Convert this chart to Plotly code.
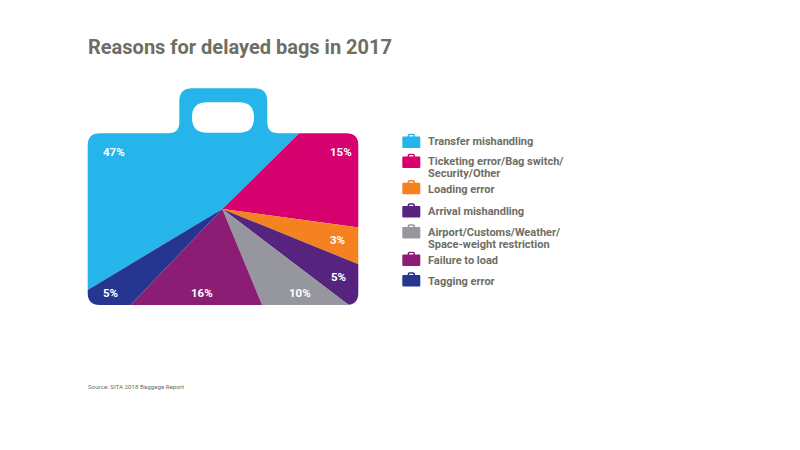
import plotly.graph_objects as go

W, H = 800, 450
PAGE_MARGIN = 8  # the page body offsets the figure by this many pixels
ANN_PAD = 2  # annotations carry this much inner padding

title = "Reasons for delayed bags in 2017"
source = "Source: SITA 2018 Baggage Report"
categories = ["Transfer mishandling", "Ticketing error/Bag switch/<br>Security/Other", "Loading error",
              "Arrival mishandling", "Airport/Customs/Weather/<br>Space-weight restriction",
              "Failure to load", "Tagging error"]
# Share of the circle each slice occupies in the picture.
slice_shares = [46.25, 14.5, 4.0, 4.2, 8.4, 18.4, 4.25]
# Figures printed on the slices.
printed_labels = ["47%", "15%", "3%", "5%", "10%", "16%", "5%"]
colors = ["#25b5ea", "#d6006e", "#f58220", "#56247f", "#96979e", "#8c1d75", "#263590"]

TEXT = "#6d6e64"
FONT = "Roboto"
cx, cy, R = 222.3, 209.0, 175.0
label_pos = [(113.7, 152.3), (341, 151.7), (337.7, 240), (338, 276.7), (299.7, 293.3), (202, 293.3), (110.7, 293.3)]
legend_line_y = [[141.7], [161.7, 173.3], [189], [211.7], [232.7, 244.2], [261], [281.7]]
icon_top = [133.7, 153.7, 180, 203.3, 224.3, 251.7, 272.3]


def px(x):
    return (x - PAGE_MARGIN) / W


def py(y):
    return 1 - (y - PAGE_MARGIN) / H


def path(cmds):
    out = []
    for c in cmds:
        op, pts = c[0], c[1:]
        coords = " ".join(f"{px(pts[i]):.5f},{py(pts[i + 1]):.5f}" for i in range(0, len(pts), 2))
        out.append(f"{op} {coords}".strip())
    return " ".join(out)


def rrect(x0, y0, x1, y1, r):
    return [("M", x0 + r, y0), ("L", x1 - r, y0), ("Q", x1, y0, x1, y0 + r), ("L", x1, y1 - r),
            ("Q", x1, y1, x1 - r, y1), ("L", x0 + r, y1), ("Q", x0, y1, x0, y1 - r), ("L", x0, y0 + r),
            ("Q", x0, y0, x0 + r, y0), ("Z",)]


def case_outline(l, r, t, b, hl, hr, ht, cr, hr_r, f):
    return [("M", l + cr, t), ("L", hl - f, t), ("Q", hl, t, hl, t - f), ("L", hl, ht + hr_r),
            ("Q", hl, ht, hl + hr_r, ht), ("L", hr - hr_r, ht), ("Q", hr, ht, hr, ht + hr_r), ("L", hr, t - f),
            ("Q", hr, t, hr + f, t), ("L", r - cr, t), ("Q", r, t, r, t + cr), ("L", r, b - cr),
            ("Q", r, b, r - cr, b), ("L", l + cr, b), ("Q", l, b, l, b - cr), ("L", l, t + cr),
            ("Q", l, t, l + cr, t), ("Z",)]


fig = go.Figure(go.Pie(
    values=slice_shares, labels=[c.replace("<br>", " ") for c in categories], sort=False,
    direction="clockwise", rotation=239, textinfo="none", hoverinfo="skip", showlegend=False,
    marker=dict(colors=colors, line=dict(width=0)),
    domain=dict(x=[px(cx - R), px(cx + R)], y=[py(cy + R), py(cy - R)]),
))

shapes = []
# white mask that leaves only the suitcase silhouette of the pie visible
mask = [("M", 0, 0), ("L", W + 20, 0), ("L", W + 20, H + 20), ("L", 0, H + 20), ("Z",)]
mask += case_outline(87.7, 358.3, 133.3, 305, 179.3, 267.3, 88.3, 12, 13, 11)
mask += rrect(192, 102.3, 254, 132.7, 15)
shapes.append(dict(type="path", xref="paper", yref="paper", path=path(mask), fillcolor="white",
                   line=dict(width=0), layer="above"))

# legend suitcases
for top, col in zip(icon_top, colors):
    shapes.append(dict(type="path", xref="paper", yref="paper", fillcolor=col, line=dict(width=0), layer="above",
                       path=path(case_outline(402.3, 420.3, top + 2.8, top + 14.3, 407.6, 415, top, 1.0, 2, 0.5)
                                 + rrect(409.2, top + 1.4, 413.4, top + 2.8, 0.6))))

annotations = [dict(text=f"<b>{title}</b>", x=px(88 - ANN_PAD), y=py(46.5), xref="paper", yref="paper", xanchor="left",
                    yanchor="middle", showarrow=False, font=dict(family=FONT, size=20, color=TEXT)),
               dict(text=source, x=px(88 - ANN_PAD), y=py(387), xref="paper", yref="paper", xanchor="left",
                    yanchor="middle", showarrow=False, font=dict(family=FONT, size=6.2, color=TEXT))]
for lab, (x, y) in zip(printed_labels, label_pos):
    annotations.append(dict(text=f"<b>{lab}</b>", x=px(x), y=py(y), xref="paper", yref="paper", showarrow=False,
                            xanchor="center", yanchor="middle", font=dict(family=FONT, size=11.5, color="white")))
for cat, ys in zip(categories, legend_line_y):
    for line, y in zip(cat.split("<br>"), ys):
        annotations.append(dict(text=f"<b>{line}</b>", x=px(428.3 - ANN_PAD), y=py(y), xref="paper", yref="paper",
                                showarrow=False, xanchor="left", yanchor="middle",
                                font=dict(family=FONT, size=11, color=TEXT)))

fig.update_layout(width=W, height=H, margin=dict(l=0, r=0, t=0, b=0), paper_bgcolor="white",
                  shapes=shapes, annotations=annotations, font=dict(family=FONT))
fig.write_html("out.html")
